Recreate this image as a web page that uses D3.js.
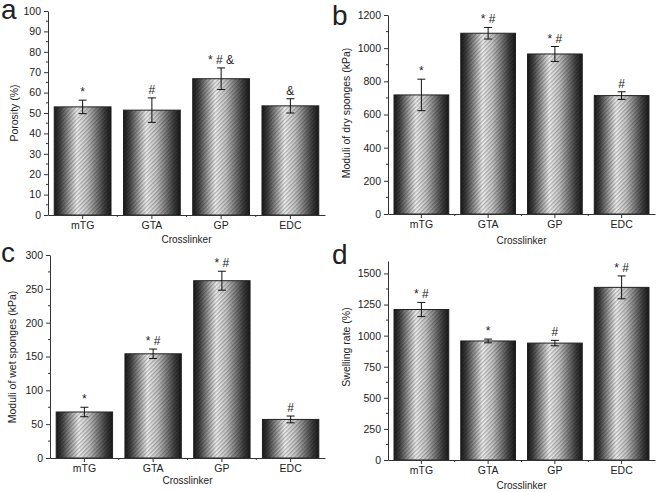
<!DOCTYPE html>
<html><head><meta charset="utf-8">
<script src="https://cdn.jsdelivr.net/npm/d3@7/dist/d3.min.js"></script>
<style>body{margin:0;background:#fff}svg{display:block}text{font-family:"Liberation Sans",Arial,sans-serif;fill:#222}</style>
</head><body>
<script>
const categories = ["mTG","GTA","GP","EDC"];
const porosity = [53, 51.4, 66.8, 53.5];
const porosityErr = [3.3, 6, 5.3, 3.5];
const porosityMarks = ["*","#","* # &","&"];
const dryModuli = [718, 1090, 965, 714];
const dryErr = [95, 35, 45, 23];
const dryMarks = ["*","* #","* #","#"];
const wetModuli = [68, 154, 262, 57];
const wetErr = [7, 7, 14, 5];
const wetMarks = ["*","* #","* #","#"];
const swelling = [1210, 957, 940, 1388];
const swellingErr = [57, 15, 22, 92];
const swellingMarks = ["* #","*","#","* #"];
const porosityTicks = [0,10,20,30,40,50,60,70,80,90,100];
const dryTicks = [0,200,400,600,800,1000,1200];
const wetTicks = [0,50,100,150,200,250,300];
const swellingTicks = [0,250,500,750,1000,1250,1500];

const W=660,H=492;
const svg=d3.select("body").append("svg").attr("width",W).attr("height",H);
const defs=svg.append("defs");
const grad=defs.append("linearGradient").attr("id","g").attr("x1","0").attr("x2","1").attr("y1","0").attr("y2","0");
[[0,"#1a1a1a"],[0.1,"#404040"],[0.4,"#f2f2f2"],[0.58,"#c8c8c8"],[0.88,"#404040"],[1,"#1a1a1a"]].forEach(([o,c])=>grad.append("stop").attr("offset",o).attr("stop-color",c));
const pat=defs.append("pattern").attr("id","h").attr("patternUnits","userSpaceOnUse").attr("width",3).attr("height",3).attr("patternTransform","rotate(45)");
pat.append("line").attr("x1",0.75).attr("y1",0).attr("x2",0.75).attr("y2",3).attr("stroke","#000").attr("stroke-opacity",0.32).attr("stroke-width",1.1);

const panels=[
 {letter:"a",vals:porosity,err:porosityErr,marks:porosityMarks,ticks:porosityTicks,max:100,minor:5,title:"Porosity (%)",x0:48,x1:325,y0:215,y1:11,lx:1,ly:19,tx:15,ty:113,cy:243},
 {letter:"b",vals:dryModuli,err:dryErr,marks:dryMarks,ticks:dryTicks,max:1200,minor:100,title:"Moduli of dry sponges (kPa)",x0:388,x1:655,y0:214,y1:15,lx:332,ly:25,tx:347,ty:113,cy:244},
 {letter:"c",vals:wetModuli,err:wetErr,marks:wetMarks,ticks:wetTicks,max:300,minor:25,title:"Moduli of wet sponges (kPa)",x0:50,x1:325,y0:458,y1:255,lx:1,ly:262,tx:13,ty:357,cy:484},
 {letter:"d",vals:swelling,err:swellingErr,marks:swellingMarks,ticks:swellingTicks,max:1600,minor:125,title:"Swelling rate (%)",x0:388,x1:655,y0:460,y1:261,lx:332,ly:264,tx:347,ty:347,cy:489}
];

panels.forEach(p=>{
  const g=svg.append("g");
  const x=d3.scaleBand().domain(categories).range([p.x0,p.x1]).paddingInner(0.18).paddingOuter(0.09);
  const y=d3.scaleLinear().domain([0,p.max]).range([p.y0,p.y1]);
  const data=categories.map((c,i)=>({c,v:p.vals[i],e:p.err[i],m:p.marks[i]}));
  data.forEach(d=>{
    const bx=x(d.c),bw=x.bandwidth(),by=y(d.v),bh=p.y0-y(d.v);
    g.append("rect").attr("x",bx).attr("y",by).attr("width",bw).attr("height",bh).attr("fill","url(#g)");
    g.append("rect").attr("x",bx).attr("y",by).attr("width",bw).attr("height",bh).attr("fill","url(#h)").attr("stroke","#222").attr("stroke-width",1);
    const cx=bx+bw/2;
    g.append("line").attr("x1",cx).attr("x2",cx).attr("y1",y(d.v+d.e)).attr("y2",y(d.v-d.e)).attr("stroke","#111");
    [d.v+d.e,d.v-d.e].forEach(v=>g.append("line").attr("x1",cx-4).attr("x2",cx+4).attr("y1",y(v)).attr("y2",y(v)).attr("stroke","#111"));
    g.append("text").attr("x",cx).attr("y",y(d.v+d.e)-4).attr("text-anchor","middle").attr("font-size",12).text(d.m);
  });
  const ya=d3.axisLeft(y).tickValues(p.ticks).tickFormat(d3.format("d")).tickSize(4).tickSizeOuter(0).tickPadding(3);
  const yg=g.append("g").attr("transform",`translate(${p.x0},0)`).call(ya);
  yg.selectAll("text").attr("font-size",10.5).attr("fill","#222");
  yg.selectAll("line,path").attr("stroke","#333");
  const minors=d3.range(0,p.max+0.001,p.minor).filter(v=>!p.ticks.includes(v));
  minors.forEach(v=>g.append("line").attr("x1",p.x0-2).attr("x2",p.x0).attr("y1",y(v)).attr("y2",y(v)).attr("stroke","#333"));
  const xa=d3.axisBottom(x).tickSize(4).tickSizeOuter(0).tickPadding(3);
  const xg=g.append("g").attr("transform",`translate(0,${p.y0})`).call(xa);
  xg.selectAll("text").attr("font-size",10.5).attr("fill","#222");
  xg.selectAll("line,path").attr("stroke","#333");
  categories.slice(1).forEach(c=>{const bx=x(c)-x.step()*x.paddingInner()/2;g.append("line").attr("x1",bx).attr("x2",bx).attr("y1",p.y0).attr("y2",p.y0+2).attr("stroke","#333");});
  g.append("text").attr("transform",`translate(${p.tx},${p.ty}) rotate(-90)`).attr("text-anchor","middle").attr("dominant-baseline","middle").attr("font-size",10.5).text(p.title);
  g.append("text").attr("x",(p.x0+p.x1)/2).attr("y",p.cy).attr("text-anchor","middle").attr("font-size",10).text("Crosslinker");
  g.append("text").attr("x",p.lx).attr("y",p.ly).attr("font-size",28).attr("fill","#111").text(p.letter);
});
</script>
</body></html>
